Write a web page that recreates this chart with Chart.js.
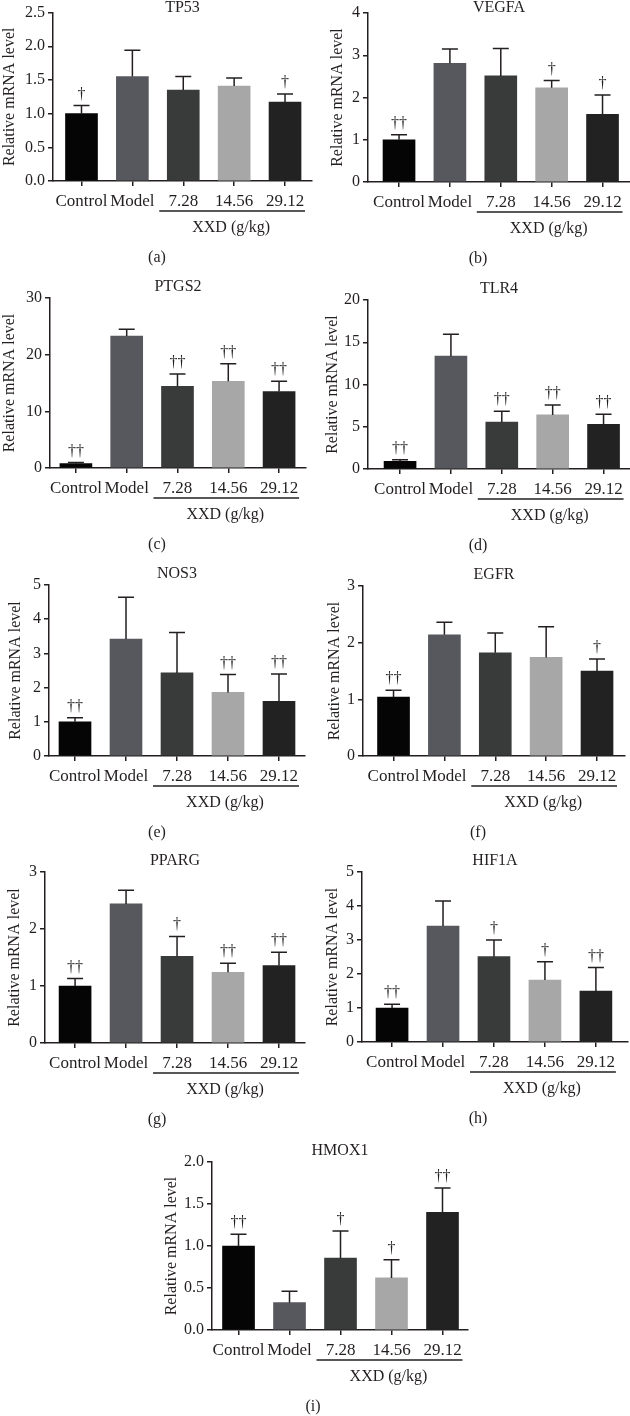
<!DOCTYPE html>
<html>
<head>
<meta charset="utf-8">
<script src="https://cdn.jsdelivr.net/npm/chart.js@4/dist/chart.umd.min.js"></script>
<style>
    body { margin: 0; background: #fff; }
    #fig { position: relative; width: 630px; height: 1416px; }
    #fig canvas { position: absolute; }
</style>
</head>
<body>
<div id="fig"></div>
<script>
// grupos del eje x
const groups = ['Control', 'Model', '7.28', '14.56', '29.12'];

// media y error (solo barra superior) por gen
const tp53Mean = [1.0, 1.55, 1.35, 1.41, 1.17];
const tp53Err = [0.12, 0.39, 0.20, 0.12, 0.12];
const tp53Marks = ['†', '', '', '', '†'];

const vegfaMean = [1.0, 2.81, 2.51, 2.23, 1.60];
const vegfaErr = [0.12, 0.34, 0.65, 0.17, 0.46];
const vegfaMarks = ['††', '', '', '†', '†'];

const ptgs2Mean = [0.77, 23.3, 14.4, 15.3, 13.5];
const ptgs2Err = [0.18, 1.2, 2.2, 3.1, 1.8];
const ptgs2Marks = ['††', '', '††', '††', '††'];

const tlr4Mean = [0.9, 13.35, 5.54, 6.4, 5.3];
const tlr4Err = [0.2, 2.59, 1.29, 1.18, 1.18];
const tlr4Marks = ['††', '', '††', '††', '††'];

const nos3Mean = [1.0, 3.42, 2.43, 1.86, 1.6];
const nos3Err = [0.12, 1.22, 1.18, 0.52, 0.8];
const nos3Marks = ['††', '', '', '††', '††'];

const egfrMean = [1.04, 2.14, 1.82, 1.74, 1.5];
const egfrErr = [0.12, 0.22, 0.35, 0.54, 0.21];
const egfrMarks = ['††', '', '', '', '†'];

const ppargMean = [1.0, 2.44, 1.52, 1.24, 1.36];
const ppargErr = [0.13, 0.24, 0.35, 0.16, 0.23];
const ppargMarks = ['††', '', '†', '††', '††'];

const hif1aMean = [1.0, 3.41, 2.51, 1.82, 1.5];
const hif1aErr = [0.11, 0.74, 0.49, 0.54, 0.69];
const hif1aMarks = ['††', '', '†', '†', '††'];

const hmox1Mean = [1.0, 0.325, 0.855, 0.62, 1.4];
const hmox1Err = [0.14, 0.135, 0.325, 0.215, 0.29];
const hmox1Marks = ['††', '', '†', '†', '††'];

const barColors = ['#050505', '#57585d', '#393a3a', '#a7a7a7', '#222222'];
const ink = '#231f20';
const serif = '"Liberation Serif", "DejaVu Serif", serif';

Chart.defaults.font.family = serif;
Chart.defaults.color = ink;

// box = lienzo [x, y, w, h]; axis = [izq, arriba, der, abajo] en la pagina
const panels = [
    { gene: 'TP53', letter: '(a)', mean: tp53Mean, err: tp53Err, marks: tp53Marks, yMax: 2.5, yStep: 0.5, dec: 1,
      box: [0, 0, 315, 275], axis: [53, 12, 312, 181], xRange: [-0.56, 4.53], yTitleX: 10, letterX: 157 },
    { gene: 'VEGFA', letter: '(b)', mean: vegfaMean, err: vegfaErr, marks: vegfaMarks, yMax: 4, yStep: 1, dec: 0,
      box: [315, 0, 315, 275], axis: [368, 13, 630, 182], xRange: [-0.61, 4.54], yTitleX: 338, letterX: 478 },
    { gene: 'PTGS2', letter: '(c)', mean: ptgs2Mean, err: ptgs2Err, marks: ptgs2Marks, yMax: 30, yStep: 10, dec: 0,
      box: [0, 275, 315, 285], axis: [50, 298, 306, 468], xRange: [-0.51, 4.53], yTitleX: 8, letterX: 157 },
    { gene: 'TLR4', letter: '(d)', mean: tlr4Mean, err: tlr4Err, marks: tlr4Marks, yMax: 20, yStep: 5, dec: 0,
      box: [315, 275, 315, 285], axis: [368, 300, 630, 469], xRange: [-0.63, 4.52], yTitleX: 333, letterX: 478 },
    { gene: 'NOS3', letter: '(e)', mean: nos3Mean, err: nos3Err, marks: nos3Marks, yMax: 5, yStep: 1, dec: 0,
      box: [0, 560, 315, 290], axis: [49, 585, 305, 756], xRange: [-0.51, 4.51], yTitleX: 16, letterX: 157 },
    { gene: 'EGFR', letter: '(f)', mean: egfrMean, err: egfrErr, marks: egfrMarks, yMax: 3, yStep: 1, dec: 0,
      box: [315, 560, 315, 290], axis: [363, 586, 625, 756], xRange: [-0.6, 4.55], yTitleX: 335, letterX: 478 },
    { gene: 'PPARG', letter: '(g)', mean: ppargMean, err: ppargErr, marks: ppargMarks, yMax: 3, yStep: 1, dec: 0,
      box: [0, 850, 315, 285], axis: [45, 872, 305, 1043], xRange: [-0.59, 4.51], yTitleX: 15, letterX: 157 },
    { gene: 'HIF1A', letter: '(h)', mean: hif1aMean, err: hif1aErr, marks: hif1aMarks, yMax: 5, yStep: 1, dec: 0,
      box: [315, 850, 315, 285], axis: [362, 872, 628, 1042], xRange: [-0.59, 4.63], yTitleX: 333, letterX: 478 },
    { gene: 'HMOX1', letter: '(i)', mean: hmox1Mean, err: hmox1Err, marks: hmox1Marks, yMax: 2, yStep: 0.5, dec: 1,
      box: [150, 1135, 330, 281], axis: [212, 1162, 468, 1330], xRange: [-0.52, 4.5], yTitleX: 172, letterX: 313 }
];

// barras de error, cruces, subrayado XXD, letra y titulo del gen
const extras = {
    id: 'extras',
    afterDatasetsDraw(chart, args, opts) {
        const p = opts.panel;
        const { ctx } = chart;
        const y = chart.scales.y;
        const meta = chart.getDatasetMeta(0);
        ctx.save();
        ctx.strokeStyle = ink;
        ctx.fillStyle = ink;
        ctx.lineWidth = 1.5;
        ctx.font = '16px ' + serif;
        ctx.textAlign = 'center';
        ctx.textBaseline = 'alphabetic';
        meta.data.forEach((bar, i) => {
            const top = y.getPixelForValue(p.mean[i] + p.err[i]);
            const half = bar.width / 4;
            ctx.beginPath();
            ctx.moveTo(bar.x, bar.y);
            ctx.lineTo(bar.x, top);
            ctx.moveTo(bar.x - half, top);
            ctx.lineTo(bar.x + half, top);
            ctx.stroke();
            if (p.marks[i]) {
                ctx.fillText(p.marks[i], bar.x, top - 7);
            }
        });
        ctx.restore();
    },
    afterDraw(chart, args, opts) {
        const p = opts.panel;
        const { ctx, chartArea: area } = chart;
        const x = chart.scales.x;
        const c3 = x.getPixelForValue(2);
        const c4 = x.getPixelForValue(3);
        const c5 = x.getPixelForValue(4);
        ctx.save();
        ctx.strokeStyle = ink;
        ctx.fillStyle = ink;
        ctx.lineWidth = 1.3;
        ctx.beginPath();
        ctx.moveTo(c3 - 24, area.bottom + 30);
        ctx.lineTo(c5 + 20, area.bottom + 30);
        ctx.stroke();
        ctx.font = '16px ' + serif;
        ctx.textAlign = 'center';
        ctx.textBaseline = 'middle';
        ctx.fillText('XXD (g/kg)', c4 - 3, area.bottom + 47);
        ctx.fillText(p.letter, p.letterX - p.box[0], area.bottom + 77);
        ctx.fillText(p.gene, (area.left + area.right) / 2, Math.max(area.top - 11, 8));
        ctx.restore();
    }
};

const fig = document.getElementById('fig');

panels.forEach(p => {
    const [bx, by, bw, bh] = p.box;
    const [al, at, ar, ab] = p.axis;
    const canvas = document.createElement('canvas');
    canvas.width = bw;
    canvas.height = bh;
    canvas.style.left = bx + 'px';
    canvas.style.top = by + 'px';
    fig.appendChild(canvas);

    const padLeft = Math.max(p.yTitleX - 9.6 - bx, 0);
    const xHeight = 30;

    new Chart(canvas.getContext('2d'), {
        type: 'bar',
        data: {
            datasets: [{
                data: groups.map((g, i) => ({ x: i, y: p.mean[i] })),
                backgroundColor: barColors,
                borderWidth: 0,
                barThickness: 32
            }]
        },
        options: {
            responsive: false,
            animation: false,
            events: [],
            layout: {
                padding: { left: padLeft, top: at - by, right: bx + bw - ar, bottom: by + bh - ab - xHeight }
            },
            scales: {
                x: {
                    type: 'linear',
                    bounds: 'data',
                    offset: false,
                    min: p.xRange[0],
                    max: p.xRange[1],
                    afterBuildTicks: s => { s.ticks = groups.map((g, i) => ({ value: i })); },
                    afterFit: s => { s.height = xHeight; },
                    grid: { offset: false, drawOnChartArea: false, tickLength: 5, color: ink, lineWidth: 1.5 },
                    border: { color: ink, width: 1.5 },
                    ticks: {
                        autoSkip: false,
                        maxRotation: 0,
                        padding: 5,
                        font: { size: 17 },
                        callback: v => groups[v] ?? ''
                    }
                },
                y: {
                    min: 0,
                    max: p.yMax,
                    afterFit: s => { s.width = al - bx - padLeft; },
                    grid: { drawOnChartArea: false, tickLength: 5, color: ink, lineWidth: 1.5 },
                    border: { color: ink, width: 1.5 },
                    ticks: {
                        stepSize: p.yStep,
                        padding: 3,
                        font: { size: 16 },
                        callback: v => v.toFixed(p.dec)
                    },
                    title: {
                        display: true,
                        text: 'Relative mRNA level',
                        padding: 0,
                        font: { size: 16 }
                    }
                }
            },
            plugins: {
                legend: { display: false },
                tooltip: { enabled: false },
                extras: { panel: p }
            }
        },
        plugins: [extras]
    });
});
</script>
</body>
</html>
